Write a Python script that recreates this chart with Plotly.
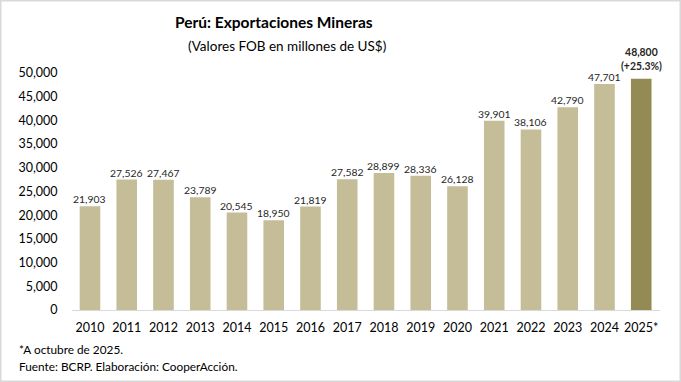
import plotly.graph_objects as go

years = ["2010", "2011", "2012", "2013", "2014", "2015", "2016", "2017",
         "2018", "2019", "2020", "2021", "2022", "2023", "2024", "2025*"]
values = [21903, 27526, 27467, 23789, 20545, 18950, 21819, 27582,
          28899, 28336, 26128, 39901, 38106, 42790, 47701, 48800]
labels = ["21,903", "27,526", "27,467", "23,789", "20,545", "18,950", "21,819", "27,582",
          "28,899", "28,336", "26,128", "39,901", "38,106", "42,790", "47,701",
          "<b>48,800<br>(+25.3%)</b>"]
ytick_vals = [0, 5000, 10000, 15000, 20000, 25000, 30000, 35000, 40000, 45000, 50000]
ytick_text = ["0", "5,000", "10,000", "15,000", "20,000", "25,000", "30,000",
              "35,000", "40,000", "45,000", "50,000"]

colors = ["#c4bd97"] * (len(years) - 1) + ["#948a54"]

W, H = 681, 382
FONT = "Lato, 'Open Sans', sans-serif"

fig = go.Figure()
fig.add_trace(go.Bar(
    x=years, y=values,
    marker=dict(color=colors, line=dict(width=0)),
    cliponaxis=False, width=0.56, hoverinfo="x+y",
))

# category index positions on the category x axis
label_annots = []
for i, (v, lab) in enumerate(zip(values, labels)):
    last = i == len(years) - 1
    label_annots.append(dict(
        x=i, y=v, xref="x", yref="y", text=lab, showarrow=False,
        yanchor="middle", yshift=20 if last else 7,
        font=dict(size=10.4, color="#262626", family=FONT),
    ))

fig.update_layout(
    width=W, height=H, autosize=False,
    margin=dict(l=0, r=0, t=0, b=0, pad=0),
    paper_bgcolor="white", plot_bgcolor="white",
    showlegend=False,
    font=dict(family=FONT, color="#262626"),
    xaxis=dict(type="category", categoryorder="array", categoryarray=years,
               range=[-0.5, len(years) - 0.5],
               domain=[71.6 / W, 659.6 / W], showline=True,
               linecolor="#d9d9d9", linewidth=1, ticks="",
               tickfont=dict(size=12.5, color="#000000"),
               showgrid=False, ticklabelstandoff=6, automargin=False),
    yaxis=dict(domain=[1 - 310 / H, 1 - 73 / H], range=[0, 50000],
               tickvals=ytick_vals, ticktext=ytick_text, showgrid=False,
               zeroline=False, showline=False, ticks="", automargin=False,
               tickfont=dict(size=12.5, color="#000000"), ticklabelstandoff=13),
    annotations=label_annots + [
        dict(text="<b>Perú: Exportaciones Mineras</b>", x=274 / W, y=1 - 22 / H,
             xref="paper", yref="paper", showarrow=False, yanchor="middle",
             font=dict(size=15.5, color="#000000", family=FONT)),
        dict(text="(Valores FOB en millones de US$)", x=287 / W, y=1 - 46 / H,
             xref="paper", yref="paper", showarrow=False, yanchor="middle",
             font=dict(size=13.5, color="#000000", family=FONT)),
        dict(text="*A octubre de 2025.", x=17 / W, y=1 - 349 / H,
             xref="paper", yref="paper", showarrow=False, xanchor="left",
             yanchor="middle", font=dict(size=11.8, color="#000000", family=FONT)),
        dict(text="Fuente: BCRP. Elaboración: CooperAcción.", x=17 / W, y=1 - 366 / H,
             xref="paper", yref="paper", showarrow=False, xanchor="left",
             yanchor="middle", font=dict(size=11.8, color="#000000", family=FONT)),
    ],
    shapes=[dict(type="rect", xref="paper", yref="paper", x0=0, x1=1, y0=0, y1=1,
                 line=dict(color="#d9d9d9", width=3))],
)

fig.write_html("out.html", config={"responsive": False, "displayModeBar": False},
               post_script="document.body.style.margin='0';document.body.style.overflow='hidden';")
